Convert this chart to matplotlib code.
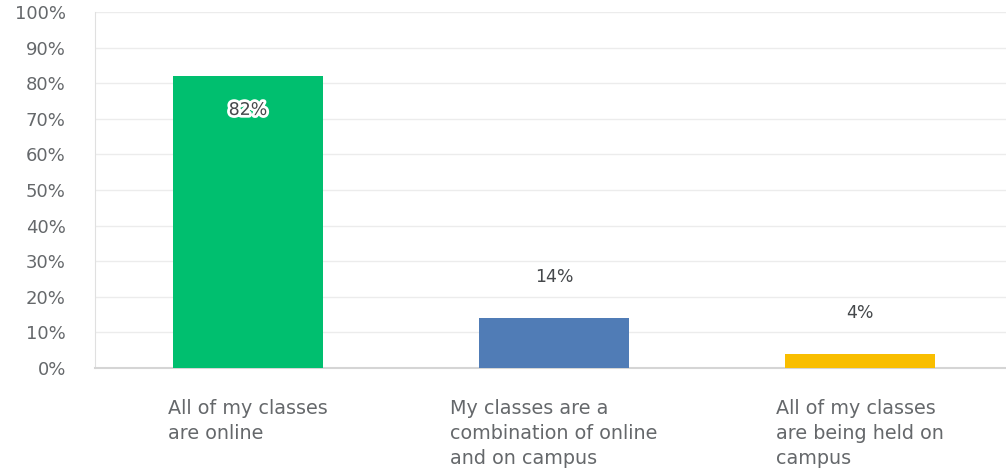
import matplotlib
matplotlib.use("Agg")
import matplotlib.pyplot as plt
import matplotlib.patheffects as pe

categories = ["All of my classes\nare online",
              "My classes are a\ncombination of online\nand on campus",
              "All of my classes\nare being held on\ncampus"]
values = [82, 14, 4]
colors = ["#00BF6F", "#507CB6", "#F9BE00"]
yticks = list(range(0, 101, 10))

plt.rcParams['font.family'] = ['DejaVu Sans']
fig = plt.figure(figsize=(10.06, 4.75), dpi=100)
W, H = 1006, 475
left, right, top, bottom = 95, 1013, 12, 368
ax = fig.add_axes([left / W, 1 - bottom / H, (right - left) / W, (bottom - top) / H])

x = list(range(len(values)))
ax.bar(x, values, width=0.487, color=colors, zorder=3)
ax.set_xlim(-0.5, 2.5)
ax.set_ylim(0, 100)
ax.set_yticks(yticks)
ax.set_yticklabels([f"{t}%" for t in yticks], fontsize=13, color="#65686b")
ax.tick_params(axis='y', length=0, pad=21)
ax.tick_params(axis='x', length=0)
ax.set_xticks([])
ax.yaxis.grid(True, color="#ececec", linewidth=1, zorder=0)
for s in ['top', 'right']:
    ax.spines[s].set_visible(False)
ax.spines['left'].set_color("#e0e0e0")
ax.spines['bottom'].set_color("#d5d5d5")
ax.spines['bottom'].set_linewidth(1.5)

for i, (v, c) in enumerate(zip(values, categories)):
    if v > 50:
        t = ax.text(i, v - 9.5, f"{v}%", ha='center', va='center', fontsize=12.5,
                    color="#45484b", zorder=5)
        t.set_path_effects([pe.withStroke(linewidth=4, foreground='white')])
    else:
        ax.text(i, v + 11.5, f"{v}%", ha='center', va='center', fontsize=12.5,
                color="#45484b", zorder=5)
    ax.text(i, -8.8, c, ha='center', va='top', multialignment='left', fontsize=13.8,
            color="#65686b", linespacing=1.38, clip_on=False)

fig.savefig("out.png", dpi=100, facecolor="white")
